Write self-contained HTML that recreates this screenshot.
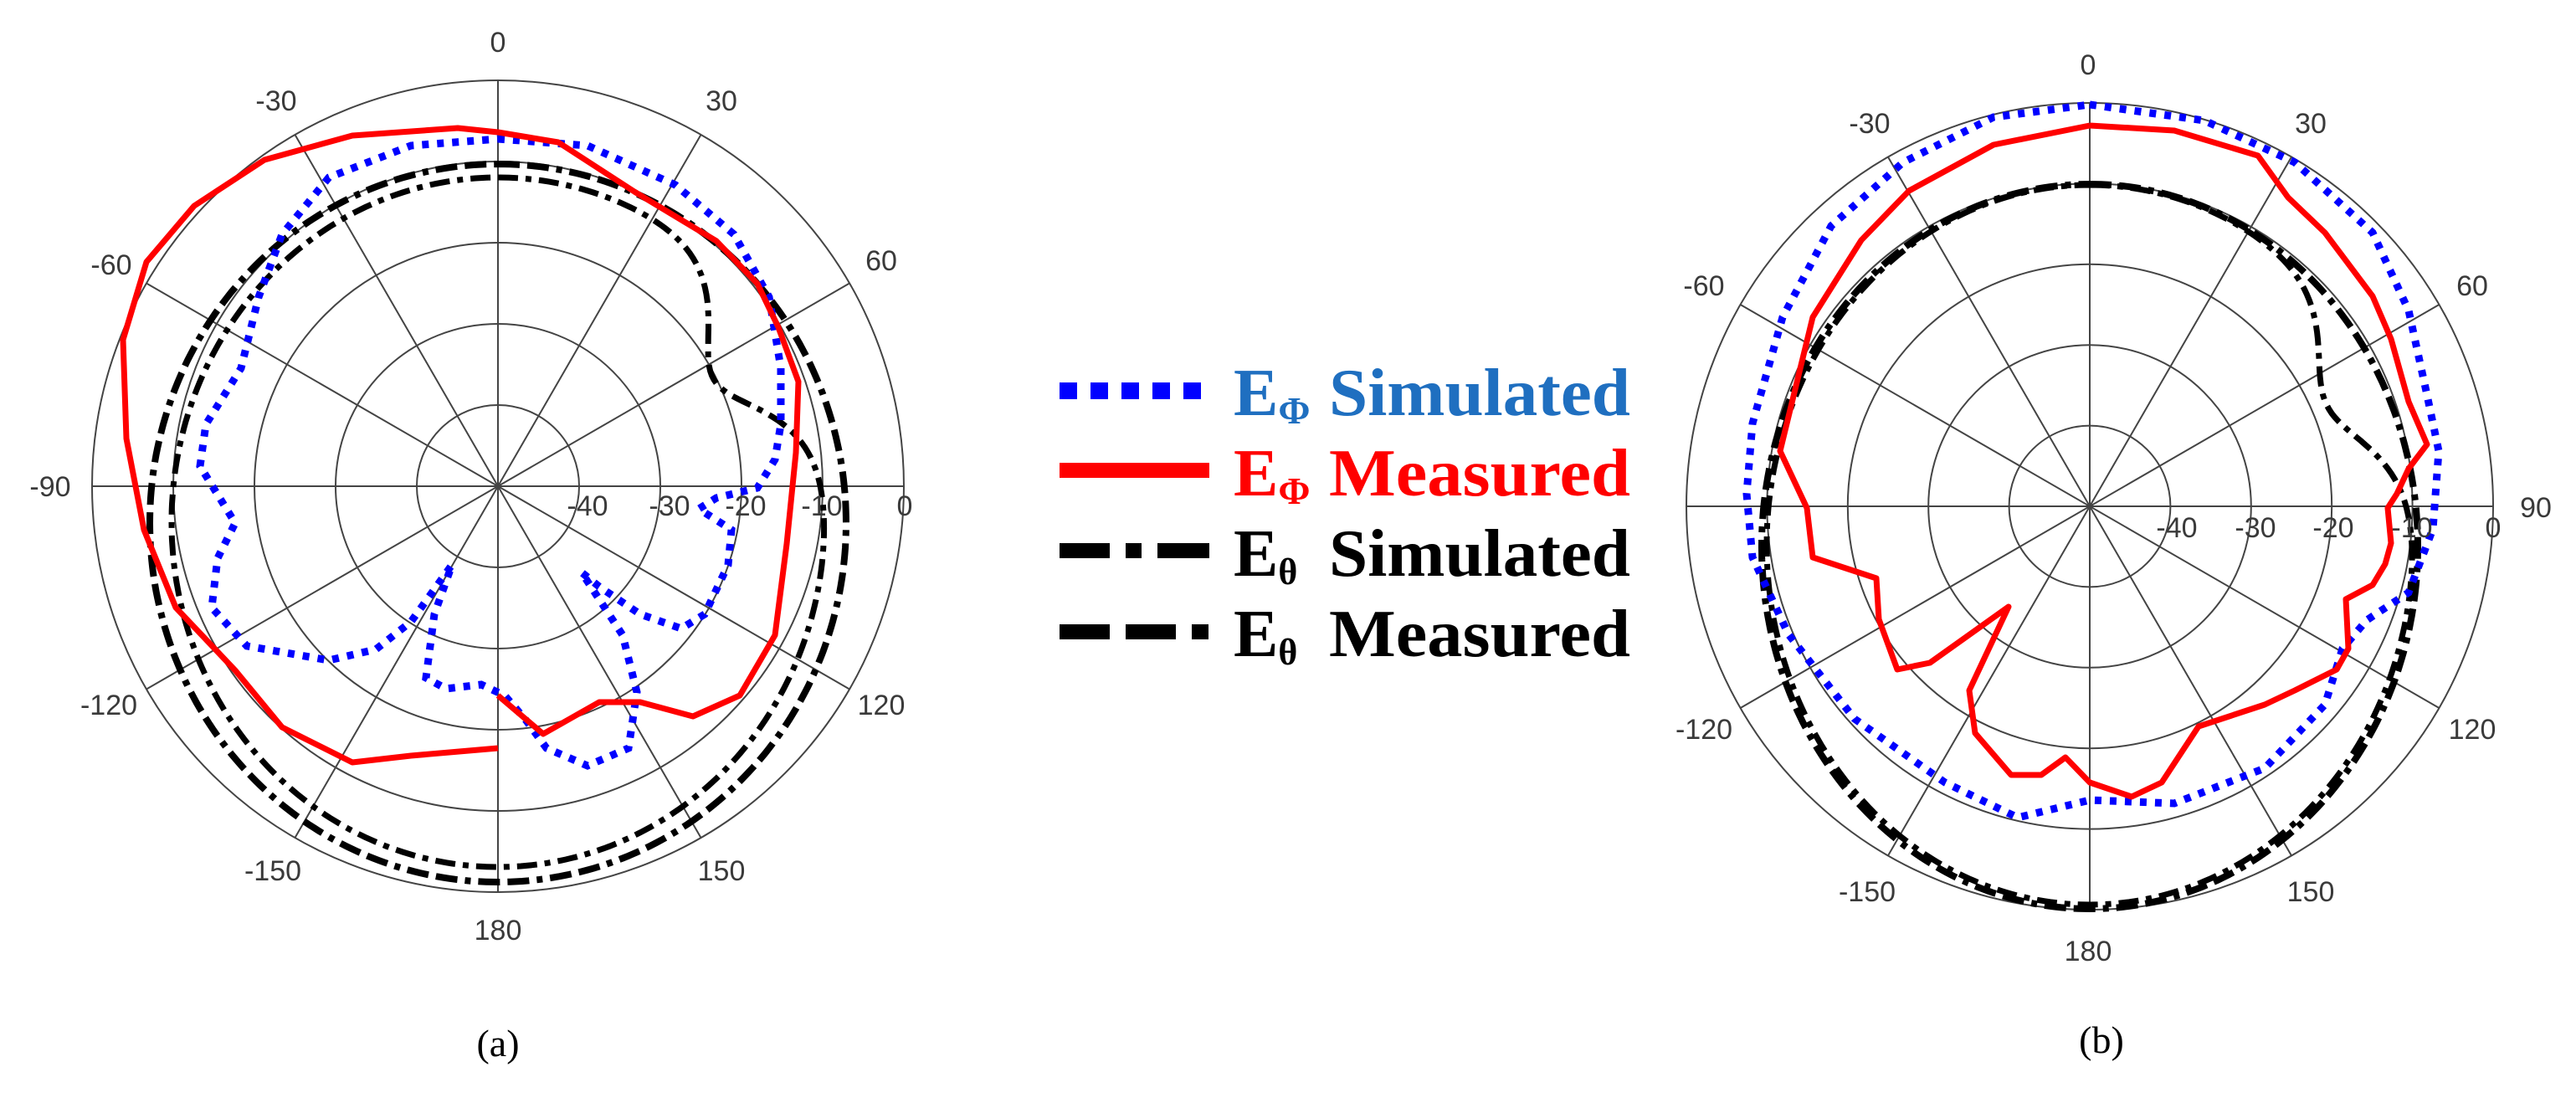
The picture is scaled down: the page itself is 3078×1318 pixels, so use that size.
<!DOCTYPE html>
<html><head><meta charset="utf-8"><style>
html,body{margin:0;padding:0;background:#fff}
svg{display:block}
.t{font-family:"Liberation Sans",Arial,sans-serif;font-size:34px;fill:#3a3a3a;text-anchor:middle}
.cap{font-family:"Liberation Serif",serif;font-size:46px;fill:#000;text-anchor:middle}
.lg{font-family:"Liberation Serif",serif;font-weight:bold}
</style></head><body>
<svg id="s" width="3078" height="1318" viewBox="0 0 3078 1318" xmlns="http://www.w3.org/2000/svg">
<g id="ga" transform="translate(595,581)"></g>
<g id="gb" transform="translate(2497,605)"></g>

<!-- labels (a) -->
<text class="t" x="595" y="62">0</text>
<text class="t" x="330" y="132">-30</text>
<text class="t" x="862" y="132">30</text>
<text class="t" x="133" y="328">-60</text>
<text class="t" x="1053" y="323">60</text>
<text class="t" x="60" y="593">-90</text>
<text class="t" x="130" y="854">-120</text>
<text class="t" x="1053" y="854">120</text>
<text class="t" x="326" y="1052">-150</text>
<text class="t" x="862" y="1052">150</text>
<text class="t" x="595" y="1123">180</text>
<text class="t" x="702" y="616">-40</text>
<text class="t" x="800" y="616">-30</text>
<text class="t" x="891" y="616">-20</text>
<text class="t" x="982" y="616">-10</text>
<text class="t" x="1081" y="616">0</text>
<text class="cap" x="595" y="1262">(a)</text>

<!-- labels (b) -->
<text class="t" x="2495" y="89">0</text>
<text class="t" x="2234" y="159">-30</text>
<text class="t" x="2761" y="159">30</text>
<text class="t" x="2036" y="353">-60</text>
<text class="t" x="2954" y="353">60</text>
<text class="t" x="3030" y="618">90</text>
<text class="t" x="2036" y="883">-120</text>
<text class="t" x="2954" y="883">120</text>
<text class="t" x="2231" y="1077">-150</text>
<text class="t" x="2761" y="1077">150</text>
<text class="t" x="2495" y="1148">180</text>
<text class="t" x="2601" y="642">-40</text>
<text class="t" x="2695" y="642">-30</text>
<text class="t" x="2788" y="642">-20</text>
<text class="t" x="2882" y="642">-10</text>
<text class="t" x="2979" y="642">0</text>
<text class="cap" x="2511" y="1258">(b)</text>

<!-- legend -->
<line x1="1266" y1="467" x2="1445" y2="467" stroke="#0000ff" stroke-width="20" stroke-dasharray="21 16"/>
<line x1="1266" y1="562" x2="1445" y2="562" stroke="#ff0000" stroke-width="18"/>
<line x1="1266" y1="658" x2="1445" y2="658" stroke="#000" stroke-width="18" stroke-dasharray="60 19 19 19 62"/>
<line x1="1266" y1="755" x2="1445" y2="755" stroke="#000" stroke-width="18" stroke-dasharray="60 19 60 19 20"/>

<text class="lg" x="1474" y="496" font-size="80" fill="#1f6fc0">E<tspan font-size="46" dy="10">Φ</tspan><tspan dy="-10" x="1588" textLength="360" lengthAdjust="spacingAndGlyphs">Simulated</tspan></text>
<text class="lg" x="1474" y="592" font-size="80" fill="#ff0000">E<tspan font-size="46" dy="10">Φ</tspan><tspan dy="-10" x="1588" textLength="360" lengthAdjust="spacingAndGlyphs">Measured</tspan></text>
<text class="lg" x="1474" y="688" font-size="80" fill="#000">E<tspan font-size="44" dy="10">θ</tspan><tspan dy="-10" x="1588" textLength="360" lengthAdjust="spacingAndGlyphs">Simulated</tspan></text>
<text class="lg" x="1474" y="784" font-size="80" fill="#000">E<tspan font-size="44" dy="10">θ</tspan><tspan dy="-10" x="1588" textLength="360" lengthAdjust="spacingAndGlyphs">Measured</tspan></text>
</svg>
<script>
var NS="http://www.w3.org/2000/svg";
function el(g,tag,at){var e=document.createElementNS(NS,tag);for(var k in at)e.setAttribute(k,at[k]);g.appendChild(e);return e;}
function grid(g,R){
  for(var i=1;i<=5;i++)el(g,"circle",{cx:0,cy:0,r:R*i/5,fill:"none",stroke:"#444","stroke-width":2});
  for(var a=0;a<180;a+=30){var t=a*Math.PI/180;el(g,"line",{x1:R*Math.sin(t),y1:-R*Math.cos(t),x2:-R*Math.sin(t),y2:R*Math.cos(t),stroke:"#444","stroke-width":2});}
}
function pts(arr){var s="";for(var i=0;i<arr.length;i+=2)s+=(i?"L":"M")+arr[i]+","+arr[i+1];return s;}
function ell(cy,rx,ry,dipA,dipW,dipD,n){
  var s="";for(var i=0;i<=n;i++){var t=i/n*2*Math.PI;var deg=t*180/Math.PI;
    var x=rx*Math.sin(t),y=cy-ry*Math.cos(t);
    var d=deg-dipA;var f=1-dipD*Math.exp(-(d*d)/(dipW*dipW));
    x*=f;y=cy+(y-cy)*f;s+=(i?"L":"M")+x.toFixed(1)+","+y.toFixed(1);}
  return s;}
var ga=document.getElementById("ga"),gb=document.getElementById("gb");
grid(ga,485);grid(gb,482);
// (a)
el(ga,"path",{d:ell(44,416,429,0,1,0,360),fill:"none",stroke:"#000","stroke-width":8,"stroke-dasharray":"26 9 26 9 7 9"});
el(ga,"path",{d:ell(43,390,412,58,14,0.22,360),fill:"none",stroke:"#000","stroke-width":7,"stroke-dasharray":"24 9 7 9"});
el(ga,"path",{d:pts([0,-415,107,-407,212,-360,282,-301,324,-226,338,-141,338,-74,331,-32,310,2,261,14,240,27,279,52,275,94,247,153,219,170,170,153,121,120,100,103,149,178,166,246,156,313,107,334,58,313,33,279,8,250,-20,237,-62,242,-86,229,-76,153,-55,94,-104,162,-146,195,-202,208,-300,191,-342,145,-335,86,-314,44,-356,-24,-349,-74,-307,-141,-286,-226,-258,-301,-202,-369,-104,-407,0,-415]),fill:"none",stroke:"#0000ff","stroke-width":9,"stroke-dasharray":"8 10"});
el(ga,"path",{d:pts([0,250,54,296,121,258,170,258,233,275,289,250,331,178,345,69,356,-40,359,-125,335,-190,310,-242,261,-293,163,-352,72,-411,0,-423,-48,-428,-174,-419,-279,-390,-363,-335,-420,-268,-448,-175,-444,-57,-423,52,-385,145,-314,220,-258,288,-174,330,-104,322,0,313]),fill:"none",stroke:"#ff0000","stroke-width":7,"stroke-linejoin":"round"});
// (b)
el(gb,"path",{d:ell(48,392,433,0,1,0,360),fill:"none",stroke:"#000","stroke-width":8,"stroke-dasharray":"26 9 26 9 7 9"});
el(gb,"path",{d:ell(46,386,430,62,14,0.17,360),fill:"none",stroke:"#000","stroke-width":7,"stroke-dasharray":"24 9 7 9"});
el(gb,"path",{d:pts([0,-480,137,-461,245,-411,338,-327,381,-234,403,-133,417,-66,410,27,381,103,331,136,302,170,281,237,209,313,101,355,0,351,-86,372,-173,330,-281,254,-360,153,-403,61,-410,-15,-403,-99,-367,-226,-309,-335,-223,-411,-115,-465,0,-480]),fill:"none",stroke:"#0000ff","stroke-width":9,"stroke-dasharray":"8 10"});
el(gb,"path",{d:pts([0,-455,101,-449,201,-419,237,-369,281,-327,338,-251,360,-200,381,-125,403,-74,381,-45,367,-15,356,2,360,44,353,69,338,94,306,111,309,170,295,195,245,220,209,237,130,263,86,330,50,347,0,330,-29,300,-58,321,-94,321,-137,271,-144,220,-97,120,-191,187,-230,195,-252,135,-255,86,-331,61,-338,2,-370,-66,-331,-226,-273,-318,-216,-377,-115,-432,0,-455]),fill:"none",stroke:"#ff0000","stroke-width":7,"stroke-linejoin":"round"});
</script>
</body></html>
